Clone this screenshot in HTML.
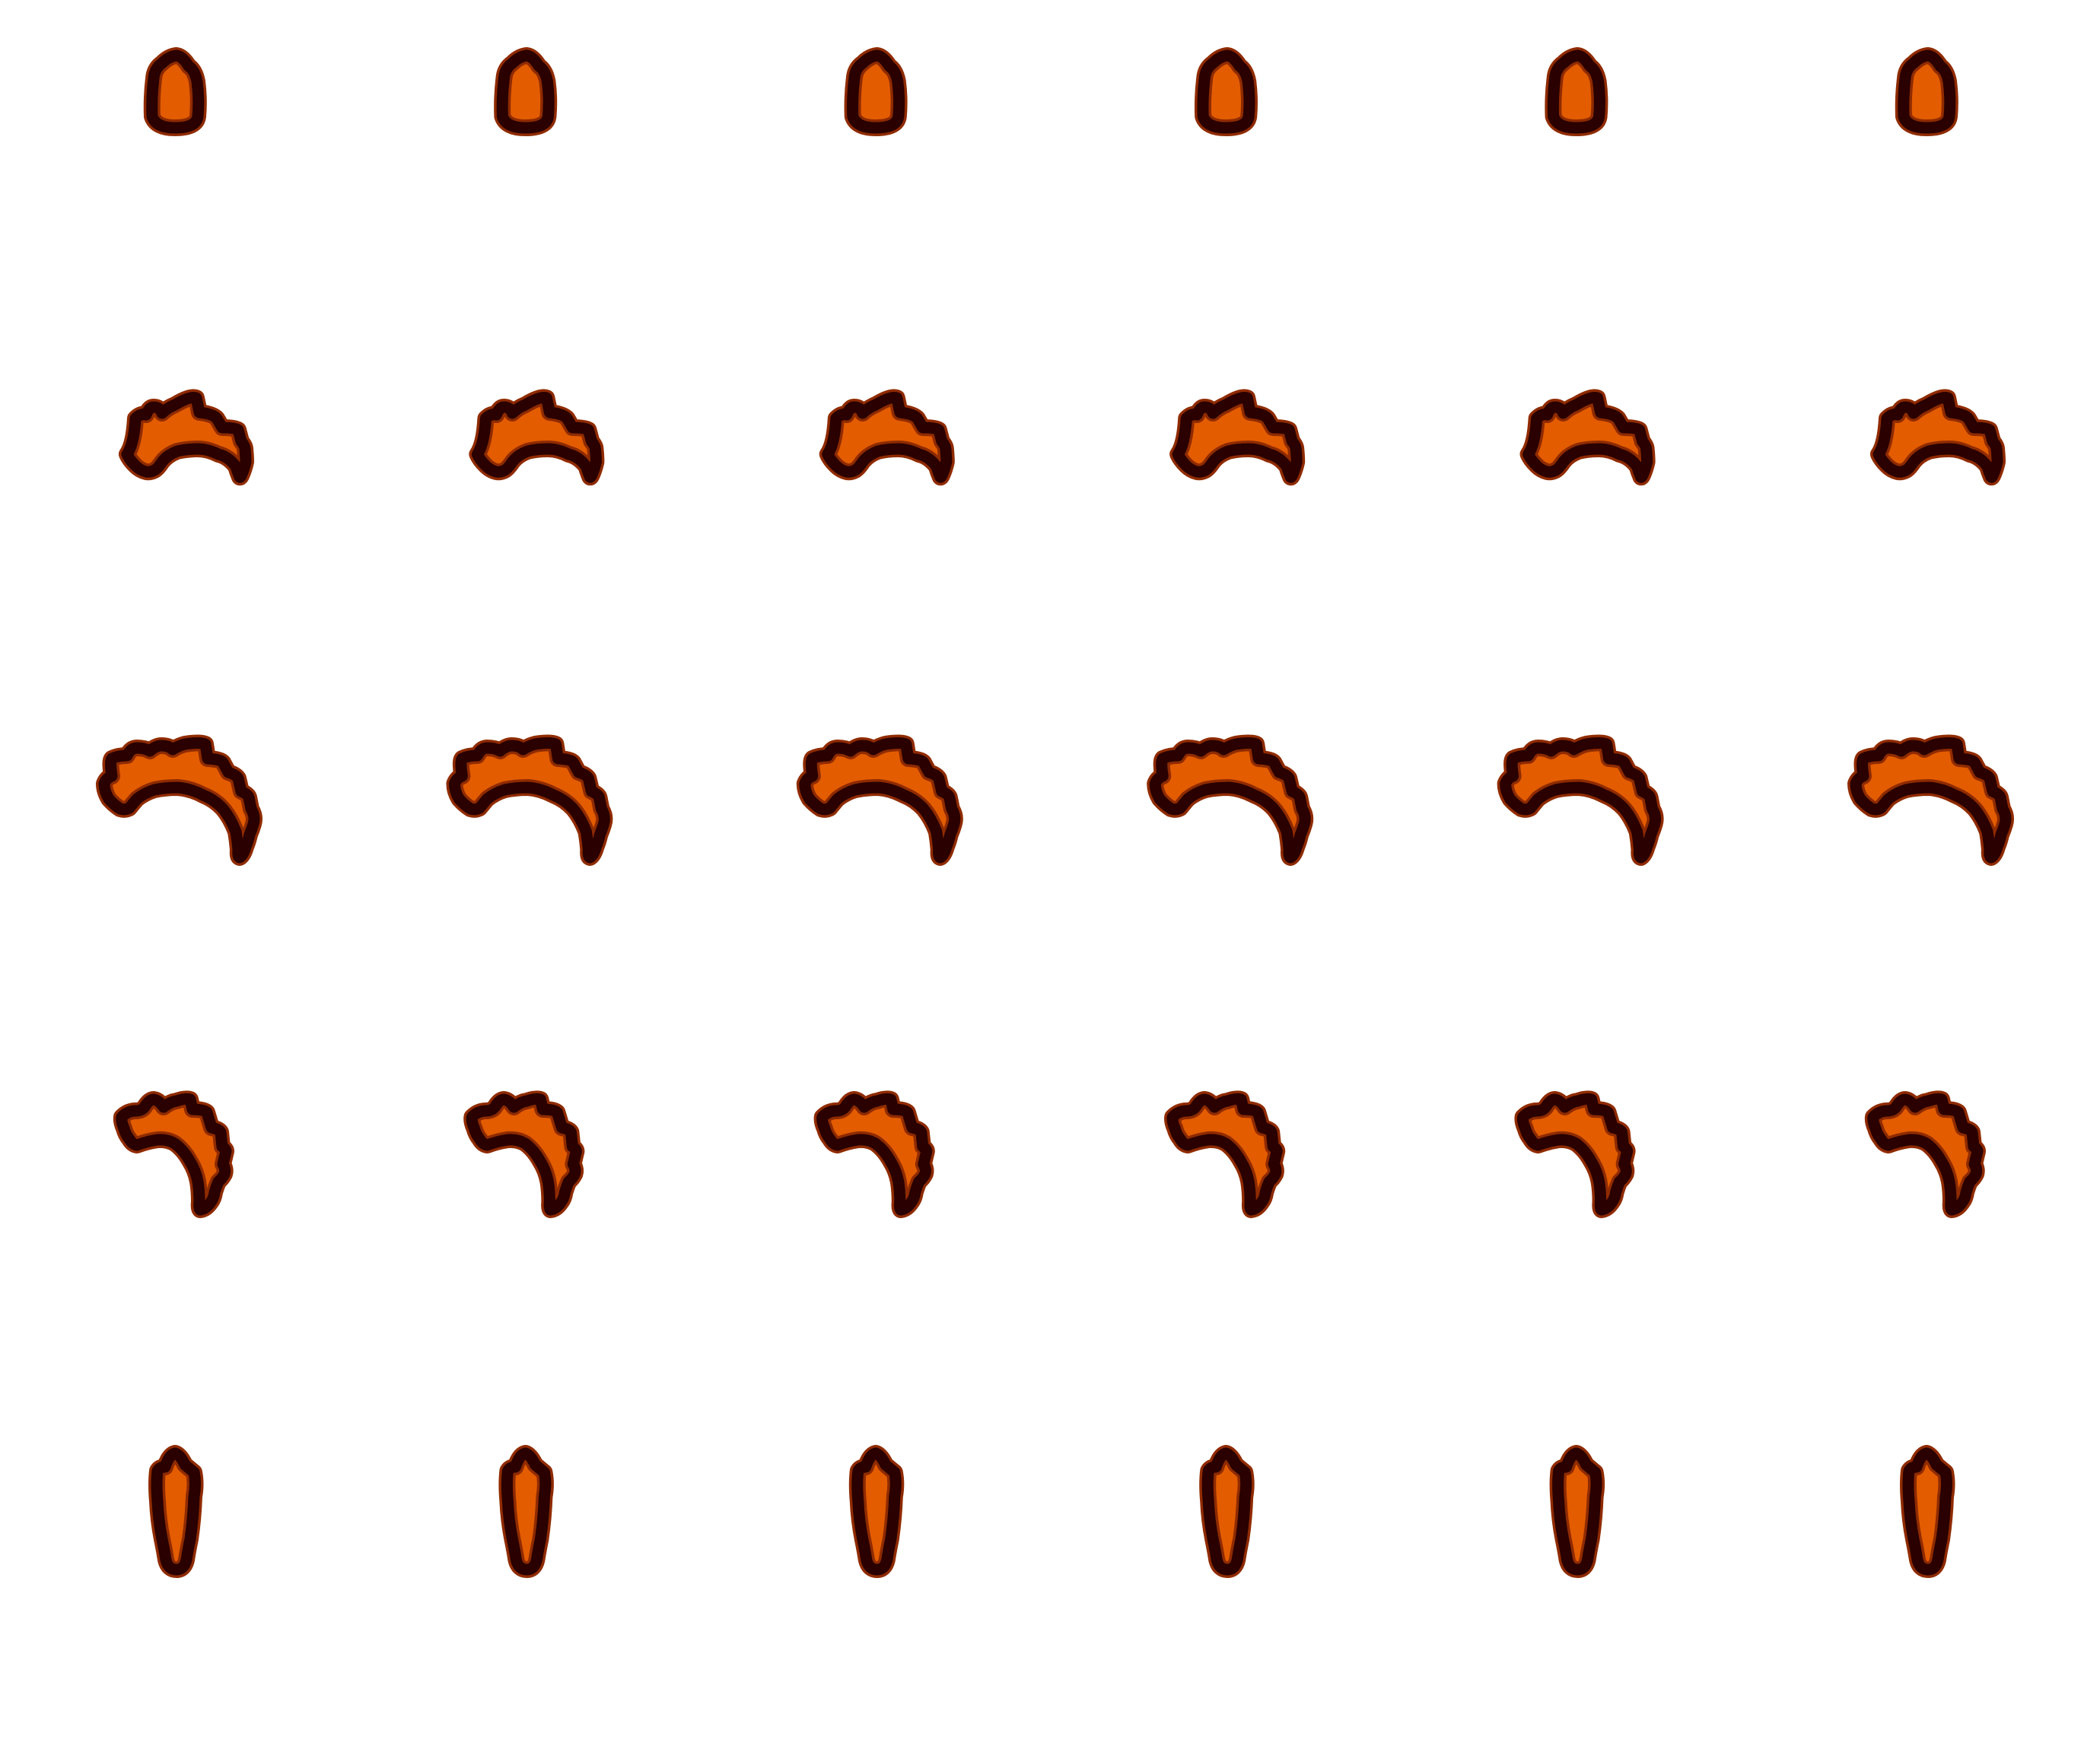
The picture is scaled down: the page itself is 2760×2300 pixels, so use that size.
<!DOCTYPE html>
<html><head><meta charset="utf-8"><style>
html,body{margin:0;padding:0;background:#fff;width:2760px;height:2300px;overflow:hidden}
svg{display:block}
</style></head><body>
<svg id="chart" width="2760" height="2300" viewBox="0 0 2760 2300" xmlns="http://www.w3.org/2000/svg">
<rect width="2760" height="2300" fill="#fff"/>
<g id="shapes"></g>
</svg>
<script>
const frameNames = ['frame-1','frame-2','frame-3','frame-4','frame-5','frame-6'];
const rowNames = ['flame-small','arc-medium','arc-large','hook','spike'];
const colStep = 460.4;
function xCol(i){ return i * colStep; }
const paths = [
"M232,73 Q222,74 213,83 Q203,90 202,103 Q199,128 200,153 Q205,168 230,168 Q258,168 260,153 Q262,130 259,107 Q256,92 248,87 Q240,74 232,73 Z",
"M167,597 Q176,584 178,550 Q185,543 192,545 Q196,535 202,535 Q210,535 213,543 Q220,536 230,532 Q250,520 258,523 L262,542 Q280,544 285,550 L292,562 Q308,562 313,565 L317,580 Q322,586 322,590 Q323,600 323,607 Q321,616 318,623 Q316,628 315,627 Q312,620 310,613 Q300,600 287,597 Q273,590 260,590 Q245,590 233,593 Q220,598 213,607 Q207,616 203,618 Q197,621 192,620 Q184,618 178,612 Q170,604 167,597 Z",
"M137,1030 Q140,1022 147,1020 Q144,1000 147,997 Q155,993 167,993 Q172,983 180,983 Q190,983 197,987 Q205,980 212,980 Q222,980 227,985 Q235,980 243,978 Q262,975 270,978 L273,997 Q290,998 293,1002 L300,1015 Q310,1018 313,1023 L317,1040 Q326,1044 327,1048 L330,1063 Q336,1073 333,1083 Q331,1090 328,1097 Q326,1106 323,1113 Q320,1124 315,1127 Q312,1126 313,1117 Q312,1105 310,1093 Q303,1075 293,1063 Q282,1051 267,1045 Q250,1036 233,1035 Q217,1035 203,1038 Q190,1042 180,1050 Q174,1057 170,1062 Q164,1065 158,1063 Q150,1058 143,1050 Q137,1040 137,1030 Z",
"M160,1468 Q168,1460 178,1460 Q186,1460 190,1455 Q196,1445 202,1445 Q209,1446 215,1455 Q224,1448 232,1447 Q244,1443 250,1445 L253,1458 Q268,1458 272,1462 L278,1482 Q288,1484 290,1488 L292,1507 Q297,1510 297,1513 L293,1530 Q297,1537 295,1543 Q292,1549 287,1553 Q284,1560 282,1567 Q281,1575 277,1580 Q271,1589 263,1590 Q261,1588 262,1580 Q262,1565 260,1553 Q257,1538 250,1527 Q242,1512 230,1503 Q220,1497 207,1498 Q193,1500 180,1505 Q174,1504 170,1497 Q165,1491 163,1483 Q159,1474 160,1468 Z",
"M230,1910 Q237,1912 243,1925 Q250,1931 255,1935 Q258,1950 255,1967 Q254,1995 250,2023 Q247,2037 245,2050 Q242,2063 232,2063 Q221,2063 218,2050 Q216,2037 213,2023 Q208,1997 207,1973 Q205,1950 207,1933 Q210,1928 217,1928 Q222,1912 230,1910 Z"
];
const g = document.getElementById('shapes');
const NS = 'http://www.w3.org/2000/svg';
for (let r = 0; r < rowNames.length; r++) {
  for (let c = 0; c < frameNames.length; c++) {
    const grp = document.createElementNS(NS, 'g');
    grp.setAttribute('transform', 'translate(' + xCol(c) + ',0)');
    
    
    const shade = document.createElementNS(NS, 'path');
    shade.setAttribute('d', paths[r]);
    shade.setAttribute('fill', '#e35c00');
    shade.setAttribute('stroke', '#8f2b00');
    shade.setAttribute('stroke-width', '22');
    shade.setAttribute('stroke-linejoin', 'round');
    const out = document.createElementNS(NS, 'path');
    out.setAttribute('d', paths[r]);
    out.setAttribute('fill', 'none');
    out.setAttribute('stroke', '#2a0000');
    out.setAttribute('stroke-width', '15');
    out.setAttribute('stroke-linejoin', 'round');
    out.setAttribute('stroke-linecap', 'round');
    grp.appendChild(shade);
    grp.appendChild(out);
    g.appendChild(grp);
  }
}
</script>
</body></html>
